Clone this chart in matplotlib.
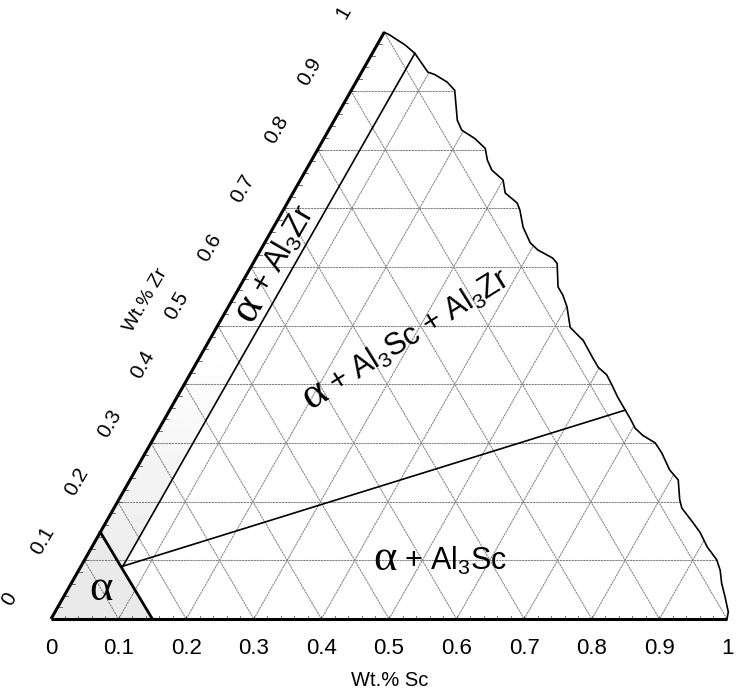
import matplotlib.pyplot as plt
import matplotlib.transforms as mtransforms
import numpy as np
from matplotlib.font_manager import FontProperties
from matplotlib.patches import Polygon
from matplotlib.textpath import TextPath

plt.rcParams["font.family"] = ["Liberation Sans", "DejaVu Sans"]
plt.rcParams["mathtext.fontset"] = "custom"
plt.rcParams["mathtext.rm"] = "Liberation Sans"
plt.rcParams["mathtext.it"] = "Liberation Sans"
plt.rcParams["mathtext.default"] = "regular"

# --- data (compositions as Wt.% Sc, Wt.% Zr) ---
sc_ticks = [0, 0.1, 0.2, 0.3, 0.4, 0.5, 0.6, 0.7, 0.8, 0.9, 1]
sc_tick_labels = ["0", "0.1", "0.2", "0.3", "0.4", "0.5", "0.6", "0.7", "0.8", "0.9", "1"]
zr_ticks = [0, 0.1, 0.2, 0.3, 0.4, 0.5, 0.6, 0.7, 0.8, 0.9, 1]
zr_tick_labels = ["0", "0.1", "0.2", "0.3", "0.4", "0.5", "0.6", "0.7", "0.8", "0.9", "1"]
grid_levels = [0.1, 0.2, 0.3, 0.4, 0.5, 0.6, 0.7, 0.8, 0.9, 1.0, 1.1, 1.2, 1.3, 1.4]
minor_ticks = [0.02 * k for k in range(1, 50)]

# torn right-hand edge of the scanned diagram, top to bottom
edge_sc = [0.0, 0.011, 0.042, 0.063, 0.098, 0.110, 0.135, 0.153, 0.182, 0.197,
           0.223, 0.247, 0.260, 0.275, 0.300, 0.314, 0.340, 0.350, 0.369, 0.393,
           0.410, 0.439, 0.450, 0.471, 0.485, 0.501, 0.523, 0.546, 0.553, 0.582,
           0.598, 0.617, 0.633, 0.652, 0.674, 0.688, 0.704, 0.721, 0.746, 0.764,
           0.790, 0.811, 0.830, 0.840, 0.869, 0.888, 0.910, 0.935, 0.949, 0.962,
           0.979, 0.996, 1.0]
edge_zr = [1.0, 0.995, 0.978, 0.964, 0.932, 0.928, 0.915, 0.901, 0.850, 0.833,
           0.819, 0.802, 0.782, 0.765, 0.748, 0.726, 0.709, 0.697, 0.668, 0.641,
           0.629, 0.615, 0.606, 0.566, 0.552, 0.532, 0.497, 0.480, 0.475, 0.445,
           0.429, 0.416, 0.399, 0.378, 0.356, 0.342, 0.325, 0.313, 0.300, 0.283,
           0.254, 0.237, 0.203, 0.189, 0.164, 0.147, 0.123, 0.101, 0.083, 0.061,
           0.037, 0.012, 0.0]

# phase boundaries
alpha_sc = [0.15, 0.0]
alpha_zr = [0.0, 0.148]
vertex_sc, vertex_zr = 0.062, 0.090
zr_line_sc = [vertex_sc, 0.063]
zr_line_zr = [vertex_zr, 0.964]
sc_line_sc = [vertex_sc, 0.674]
sc_line_zr = [vertex_zr, 0.356]

# --- layout ---
TOP_X, TOP_Y = 0.493, 0.868  # top vertex of the (slightly skewed) scan


def tern(s, z):
    s = np.asarray(s, dtype=float)
    z = np.asarray(z, dtype=float)
    return s + TOP_X * z, TOP_Y * z


fig = plt.figure(figsize=(7.37, 6.93), dpi=100)
ax = fig.add_axes([0, 0, 1, 1])
ax.set_xlim(-51 / 676, 686 / 676)
ax.set_ylim(-74 / 676, 619 / 676)
ax.axis("off")

ex, ey = tern(edge_sc, edge_zr)
outline = [(0, 0)] + list(zip(ex[::-1], ey[::-1]))
clip = Polygon(outline, closed=True, facecolor="none", edgecolor="none")
ax.add_patch(clip)

# shading of the alpha field and the lower part of the alpha + Al3Zr strip
px_, py_ = tern([0, 0.15, 0], [0, 0, 0.148])
ax.fill(px_, py_, color="#eaeaea", lw=0, zorder=1)
sx, sy = tern([0, vertex_sc, 0.063, 0], [0.148, vertex_zr, 0.964, 1.0])
strip = Polygon(list(zip(sx, sy)), closed=True, facecolor="none", edgecolor="none")
ax.add_patch(strip)
zz = np.linspace(0, 1, 300)[:, None]
shade = np.clip(0.93 + (zz - 0.12) / (0.45 - 0.12) * 0.07, 0.93, 1.0)
im = ax.imshow(shade, extent=(0, 0.6, 0, TOP_Y), origin="lower", cmap="gray",
               vmin=0, vmax=1, aspect="auto", zorder=1, interpolation="bilinear")
im.set_clip_path(strip)

# triangular grid
grid_kw = dict(color="#858585", lw=0.75, ls=(0, (2.2, 0.6)), zorder=2)
for g in grid_levels:
    if g < 1:
        x, y = tern([0, 1.5], [g, g])
        ln, = ax.plot(x, y, **grid_kw)
        ln.set_clip_path(clip)
    x, y = tern([g, g], [0, 1.2])
    ln, = ax.plot(x, y, **grid_kw)
    ln.set_clip_path(clip)
    x, y = tern([g, 0], [0, g])
    ln, = ax.plot(x, y, **grid_kw)
    ln.set_clip_path(clip)

# frame: base, left edge, torn edge
x, y = tern([0, 1], [0, 0])
ax.plot(x, y, color="black", lw=2.2, solid_capstyle="butt", zorder=4)
x, y = tern([0, 0], [0, 1])
ax.plot(x, y, color="black", lw=2.2, solid_capstyle="butt", zorder=4)
ax.plot(ex, ey, color="black", lw=1.2, zorder=4)

# minor ticks
for t in minor_ticks:
    x, y = tern([t, t], [0, 0])
    ax.plot(x, [0, 0.005], color="#555555", lw=0.6, zorder=3)
    x, y = tern([0, 0], [t, t])
    ax.plot([x[0], x[0] + 0.006], y, color="#555555", lw=0.6, zorder=3)

# phase boundaries
x, y = tern(alpha_sc, alpha_zr)
ax.plot(x, y, color="black", lw=2.0, zorder=5)
x, y = tern(zr_line_sc, zr_line_zr)
ax.plot(x, y, color="black", lw=1.2, zorder=5)
x, y = tern(sc_line_sc, sc_line_zr)
ax.plot(x, y, color="black", lw=1.2, zorder=5)

# axis tick labels
for t, lab in zip(sc_ticks, sc_tick_labels):
    x, y = tern(t, 0)
    ax.text(x, -0.043, lab, fontsize=16, ha="center", va="center")
for t, lab in zip(zr_ticks, zr_tick_labels):
    x, y = tern(0, t)
    ax.text(x - 0.061, y + 0.029, lab, fontsize=15, ha="center", va="center",
            rotation=60)
ax.text(0.501, -0.091, "Wt.% Sc", fontsize=14.5, ha="center", va="center")
ax.text(0.1405, 0.472, "Wt.% Zr", fontsize=14, ha="center", va="center", rotation=60)

# phase field labels
ALPHA_FONT = "Liberation Serif"
A_SIZE = 32
LBL_SIZE = 22
alpha_w = TextPath((0, 0), "α", size=A_SIZE,
                   prop=FontProperties(family=ALPHA_FONT)).get_extents().width


def phase_label(x, y, angle, rest):
    ax.text(x, y, "α", fontsize=A_SIZE, family=ALPHA_FONT, rotation=angle,
            rotation_mode="anchor", ha="left", va="baseline", zorder=6)
    gap = alpha_w + 0.35 * LBL_SIZE
    th = np.radians(angle)
    tr = mtransforms.offset_copy(ax.transData, fig=fig, x=gap * np.cos(th),
                                 y=gap * np.sin(th), units="points")
    ax.text(x, y, rest, transform=tr, fontsize=LBL_SIZE, rotation=angle,
            rotation_mode="anchor", ha="left", va="baseline", zorder=6)


ax.text(0.074, 0.028, "α", fontsize=A_SIZE, family=ALPHA_FONT, ha="center",
        va="baseline", zorder=6)
phase_label(0.296, 0.437, 60, "+ Al$_3$Zr")
phase_label(0.383, 0.309, 32, "+ Al$_3$Sc + Al$_3$Zr")
phase_label(0.476, 0.0725, 0, "+ Al$_3$Sc")

fig.savefig("out.png", dpi=100)
